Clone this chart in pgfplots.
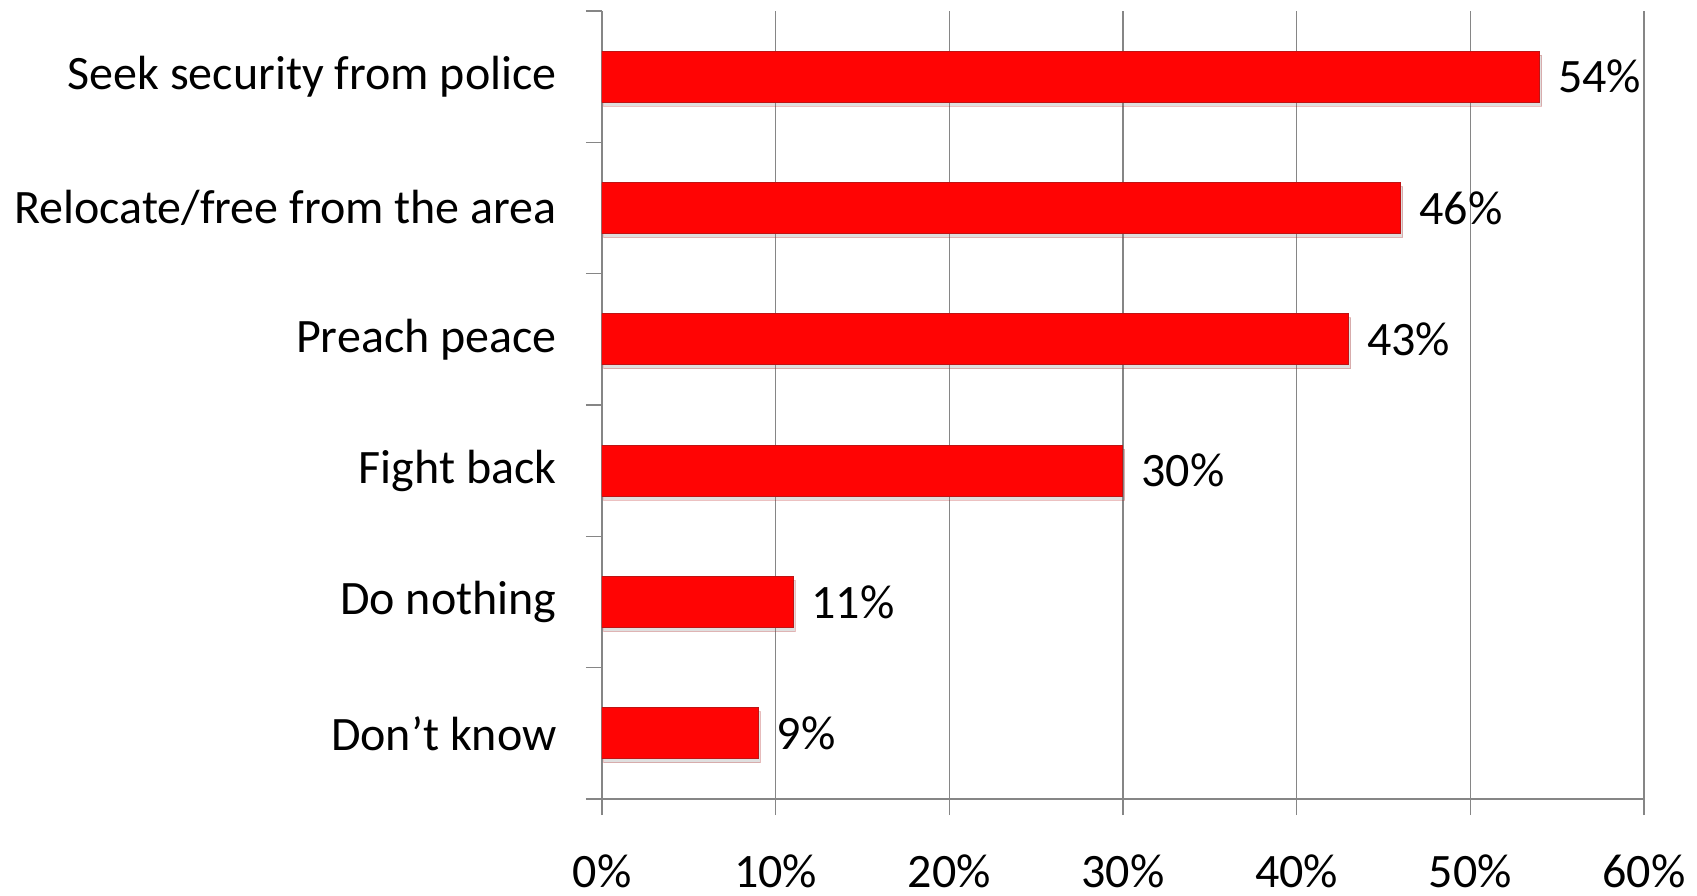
\documentclass[border=0pt]{standalone}
\usepackage{pgfplots}
\pgfplotsset{compat=1.18}
\usepackage{fontspec}
\setmainfont{Carlito}
\usetikzlibrary{shadows}
\definecolor{barred}{RGB}{255,4,4}
\definecolor{baredge}{RGB}{190,20,20}
\definecolor{gridgray}{RGB}{134,134,134}
\begin{document}
\begin{tikzpicture}
\path[use as bounding box] (-301pt,-48pt) rectangle (547.5pt,399.5pt);
\begin{axis}[
  at={(0,0)}, anchor=south west, scale only axis,
  width=521pt, height=394pt,
  /pgf/number format/assume math mode=true,
  xbar, bar width=25.5pt,
  xmin=0, xmax=60, ymin=-0.5, ymax=5.5,
  axis x line*=bottom, axis y line*=left,
  axis line style={draw=gridgray, line width=0.6pt},
  xmajorgrids, grid style={draw=gridgray, line width=0.6pt},
  tick align=outside, major tick length=8pt,
  tick style={draw=gridgray, line width=0.6pt},
  xtick={0,10,...,60},
  xticklabel={\pgfmathprintnumber{\tick}\%},
  ytick={-0.5,0.5,...,5.5}, yticklabels={},
  extra y ticks={0,1,2,3,4,5},
  extra y tick labels={Don’t know, Do nothing, Fight back, Preach peace, Relocate/free from the area, Seek security from police},
  extra y tick style={major tick length=0pt, grid=none},
  ticklabel style={font=\fontsize{24}{28}\selectfont, text=black},
  yticklabel style={anchor=east, inner sep=0pt, xshift=-22.5pt},
  xticklabel style={anchor=base, inner sep=0pt, yshift=-36pt},
  nodes near coords={\pgfmathprintnumber{\pgfplotspointmeta}\%},
  nodes near coords style={font=\fontsize{24}{28}\selectfont, text=black, anchor=west, inner sep=0pt, xshift=9pt},
  point meta=x,
]
\addplot[fill=barred, draw=baredge, line width=0.5pt,
  drop shadow={shadow xshift=1pt, shadow yshift=-2pt, opacity=0.25}]
  coordinates {(9,0) (11,1) (30,2) (43,3) (46,4) (54,5)};
\end{axis}
\end{tikzpicture}
\end{document}
